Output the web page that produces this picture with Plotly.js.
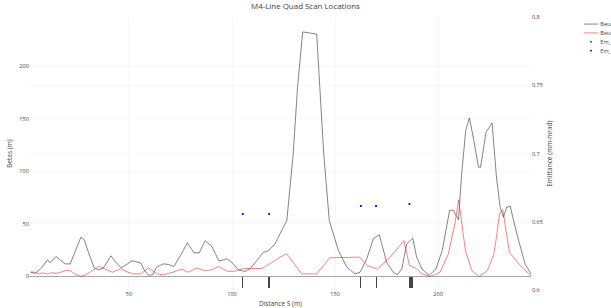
<!DOCTYPE html>
<html>
<head>
<meta charset="utf-8">
<script src="https://cdn.plot.ly/plotly-3.0.1.min.js"></script>
<style>
html,body{margin:0;padding:0;background:#fff;}
#wrap{width:611px;height:308px;overflow:hidden;position:relative;}
#plot{width:1308px;height:660px;transform:scale(0.467);transform-origin:0 0;}
</style>
</head>
<body>
<div id="wrap"><div id="plot"></div></div>
<script>
// Beta x (black)
const betaxS = [2.3,4.5,7.5,10.5,11.7,14.6,17,19.1,21.5,24,26.7,28.3,30.5,33.2,35.3,37.5,41.3,43.5,46.1,48.5,51.5,55.8,57.5,59.4,61.5,63.4,66.7,69,71.8,75,78.3,81.6,84.1,86.9,90.1,93.7,97.4,99.8,103.1,106.3,108.7,112,115.2,117.6,120.9,123.3,126.6,129.7,131.8,134.3,141.1,142.6,144.5,147.2,151.6,155.7,159.7,162.1,165.4,168.6,171.5,175.1,178.3,180.3,182.4,184.8,187.7,189.6,192.1,195.7,199,202,205.6,207.4,209.9,211.3,213.4,215.2,217.3,219.6,220.6,223.3,226.2,228.3,230.1,231.7,233.3,235,238.2,242.2,245.1];
const betax  = [4,3,8,16,13,19,15,12,12,24,37.5,35,22,8,6.4,8,19.7,14,8.3,11,15,12.7,6,1.3,1.5,8.9,12,11.5,9.5,20,32,22.5,22.5,34,29,14.6,16.8,13.7,6.3,4.8,7.3,15,23,24.4,31,40.6,53.3,117,180,232.7,230.5,180,117,53.3,24.8,8.9,2.5,4,16.8,36,39.7,13,4,1.8,7.3,31,36.5,18.4,7.3,1,7.3,24.8,63,63,54,94.6,139,150.8,130,104,104,137.5,146,95,66,56.5,66,66.7,40.6,12,2.5];
// Beta y (red)
const betayS = [2.3,4.5,6.5,8.5,10.5,12.5,15,19.5,21.5,24,26.7,28.5,31,35.6,38.5,42,46,49,51.9,55.8,59.5,63.4,66.7,71.4,75.6,78.9,82.8,86.9,90.1,93.4,97.7,101.4,105.5,108.7,114.3,118.4,123.3,126.6,133.8,141.1,147.4,162.1,165.4,170.5,176.7,183.4,186.1,189.6,192.1,196.1,201,205,208.1,210,213.3,216.4,220,223.9,226.9,228.3,229.8,231.4,234.6,239.8,245.1];
const betay  = [4.5,4,2.5,3.5,2.5,3.5,3,5.7,5.5,2,0.3,1,4,9.8,7,4,7.3,4.5,2.5,2.5,8.3,2.5,1.6,4.1,7,4.1,8,5.4,6.3,9.5,5,5,7.6,7.6,7.6,12,18.4,21.6,2.5,2.5,17.8,18.4,10.5,7,18.4,34,10.5,7.3,2.5,0,4,21.6,50,73,24,5.7,0,5.7,20,37,59.7,63.5,23,10.5,0.6];
// Emittance at quad scan locations
const emS  = [105.2,118,162.5,169.9,186.1];
const emX  = [0.6557,0.6557,0.6616,0.6616,0.6631];
const emY  = [0.6557,0.6557,0.6616,0.6616,0.6631];
// Quad locations (markers below axis)
const quadS = [105.1,117.9,162.4,170.1,186.4,187.2];
const quadMark = [-10.5,-10.5,-10.5,-10.5,-10.5,-10.5];

const traces = [
  {x: betaxS, y: betax, type:'scatter', mode:'lines', name:'Betax', line:{color:'#222', width:1.2}},
  {x: betayS, y: betay, type:'scatter', mode:'lines', name:'Betay', line:{color:'#ee2222', width:1.2}},
  {x: emS, y: emX, type:'scatter', mode:'markers', name:'Em_x', yaxis:'y2', marker:{color:'green', size:4}},
  {x: emS, y: emY, type:'scatter', mode:'markers', name:'Em_y', yaxis:'y2', marker:{color:'blue', size:4}},
  {x: quadS, y: quadMark, type:'bar', width:0.8, showlegend:false, marker:{color:'#444'}, hoverinfo:'skip'}
];

const layout = {
  width:1308, height:660,
  margin:{l:63, r:170, t:37, b:39, autoexpand:false},
  paper_bgcolor:'#fff', plot_bgcolor:'#fff',
  font:{family:'"Open Sans", verdana, arial, sans-serif', color:'#444', size:12},
  title:{text:'M4-Line Quad Scan Locations', font:{size:17}},
  showlegend:true,
  legend:{x:1.1, y:1, xanchor:'left', yanchor:'top', font:{size:12}},
  xaxis:{title:{text:'Distance S (m)'}, range:[1.7,245.3], tickvals:[50,100,150,200], showgrid:true, gridcolor:'#eee', zeroline:false, showline:false},
  yaxis:{title:{text:'Betas (m)'}, range:[-12.85,246.6], tickvals:[0,50,100,150,200], gridcolor:'#eee', zeroline:true, zerolinecolor:'#444', zerolinewidth:1},
  yaxis2:{title:{text:'Emittance (mm-mrad)'}, overlaying:'y', side:'right', range:[0.6,0.8], tickvals:[0.6,0.65,0.7,0.75,0.8], gridcolor:'#eee', zeroline:false},
  bargap:0
};
Plotly.newPlot('plot', traces, layout, {displayModeBar:false, staticPlot:true});
</script>
</body>
</html>
